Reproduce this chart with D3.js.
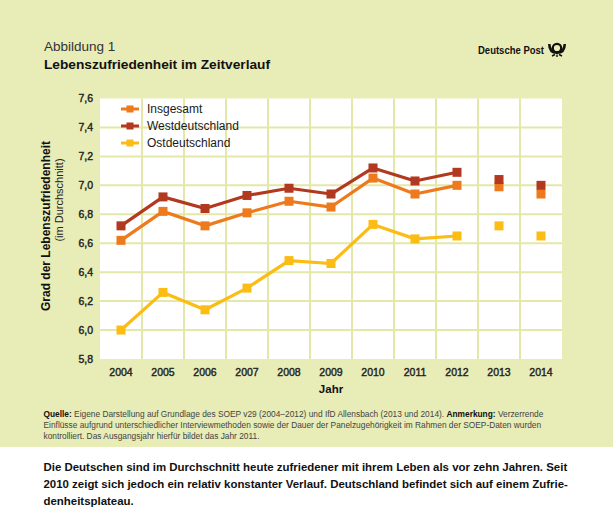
<!DOCTYPE html>
<html>
<head>
<meta charset="utf-8">
<script src="https://cdn.jsdelivr.net/npm/d3@7"></script>
<style>
  html, body { margin: 0; padding: 0; background: #fff; }
  svg { display: block; font-family: "Liberation Sans", Arial, sans-serif; }
</style>
</head>
<body>
<div id="chart"></div>
<script>
// ---- data ----
const years = ['2004', '2005', '2006', '2007', '2008', '2009', '2010', '2011', '2012', '2013', '2014'];
const insgesamt = [6.62, 6.82, 6.72, 6.81, 6.89, 6.85, 7.05, 6.94, 7.00, 6.99, 6.94];
const westdeutschland = [6.72, 6.92, 6.84, 6.93, 6.98, 6.94, 7.12, 7.03, 7.09, 7.04, 7.00];
const ostdeutschland = [6.00, 6.26, 6.14, 6.29, 6.48, 6.46, 6.73, 6.63, 6.65, 6.72, 6.65];
const yTicks = [5.8, 6.0, 6.2, 6.4, 6.6, 6.8, 7.0, 7.2, 7.4, 7.6];
// SOEP years are connected, Allensbach years (2013/2014) stand alone
const lastConnected = '2012';

const series = [
    { name: 'Insgesamt', values: insgesamt, color: '#ee7a1e' },
    { name: 'Westdeutschland', values: westdeutschland, color: '#b2381f' },
    { name: 'Ostdeutschland', values: ostdeutschland, color: '#fbbc14' }
];

const width = 613, height = 517;
const bg = '#e8ecb6', grid = '#e3e8a8';
const plot = { left: 100, right: 562, top: 98.5, bottom: 359 };

const svg = d3.select('#chart').append('svg')
    .attr('width', width)
    .attr('height', height);

// Background panels
svg.append('rect').attr('width', width).attr('height', 447).attr('fill', bg);
svg.append('rect').attr('y', 447).attr('width', width).attr('height', height - 447).attr('fill', '#fff');

// Header
svg.append('text')
    .attr('x', 44).attr('y', 51)
    .style('font-size', '13.5px').style('fill', '#333')
    .text('Abbildung 1');
svg.append('text')
    .attr('x', 44).attr('y', 69)
    .attr('textLength', 226).attr('lengthAdjust', 'spacingAndGlyphs')
    .style('font-size', '13.5px').style('font-weight', 'bold').style('fill', '#111')
    .text('Lebenszufriedenheit im Zeitverlauf');

// Deutsche Post wordmark + horn
svg.append('text')
    .attr('x', 478).attr('y', 54)
    .attr('textLength', 66).attr('lengthAdjust', 'spacingAndGlyphs')
    .style('font-size', '11px').style('font-weight', 'bold').style('fill', '#111')
    .text('Deutsche Post');
const horn = svg.append('g').attr('transform', 'translate(557,48)');
horn.append('circle').attr('r', 4.2).attr('fill', 'none').attr('stroke', '#111').attr('stroke-width', 2.2);
horn.append('path')
    .attr('d', 'M-9,-4 Q-9,6 0,6 Q9,6 9,-4 L6.5,-4 Q6,3.5 0,3.5 Q-6,3.5 -6.5,-4 Z')
    .attr('fill', '#111');
horn.append('path')
    .attr('d', 'M-5,8 L-2,6.5 M5,8 L2,6.5 M0,9 L0,6.5')
    .attr('stroke', '#111').attr('stroke-width', 1.4);

// Scales
const x = d3.scaleBand().domain(years).range([plot.left, plot.right]);
const y = d3.scaleLinear().domain([5.8, 7.6]).range([plot.bottom, plot.top]);
const cx = d => x(d) + x.bandwidth() / 2;

// Plot area
svg.append('rect')
    .attr('x', plot.left).attr('y', plot.top)
    .attr('width', plot.right - plot.left).attr('height', plot.bottom - plot.top)
    .attr('fill', '#fff');

const gridG = svg.append('g');
gridG.selectAll('line.h')
    .data(yTicks.slice(1, -1))
    .join('line')
    .attr('x1', plot.left).attr('x2', plot.right)
    .attr('y1', d => y(d)).attr('y2', d => y(d))
    .attr('stroke', grid).attr('stroke-width', 2);
gridG.selectAll('line.v')
    .data(years.slice(1))
    .join('line')
    .attr('x1', d => x(d)).attr('x2', d => x(d))
    .attr('y1', plot.top).attr('y2', plot.bottom)
    .attr('stroke', grid).attr('stroke-width', 2);

// Axes (labels only)
const yAxis = svg.append('g')
    .attr('transform', `translate(${plot.left - 7},0)`)
    .call(d3.axisLeft(y).tickValues(yTicks).tickSize(0).tickPadding(0)
        .tickFormat(d => d3.format('.1f')(d).replace('.', ',')));
yAxis.select('.domain').remove();
yAxis.selectAll('text')
    .style('font-family', '"Liberation Sans", Arial, sans-serif')
    .style('font-size', '10.5px').style('fill', '#222')
    .attr('stroke', '#222').attr('stroke-width', 0.4);

const xAxis = svg.append('g')
    .attr('transform', `translate(0,${plot.bottom + 10})`)
    .call(d3.axisBottom(x).tickSize(0).tickPadding(0));
xAxis.select('.domain').remove();
xAxis.selectAll('text')
    .style('font-family', '"Liberation Sans", Arial, sans-serif')
    .style('font-size', '10.5px').style('fill', '#222')
    .attr('stroke', '#222').attr('stroke-width', 0.4);

// Axis titles
svg.append('text')
    .attr('text-anchor', 'middle')
    .attr('transform', 'translate(50,226) rotate(-90)')
    .style('font-size', '12px').style('font-weight', 'bold').style('fill', '#111')
    .text('Grad der Lebenszufriedenheit');
svg.append('text')
    .attr('text-anchor', 'middle')
    .attr('transform', 'translate(63,200) rotate(-90)')
    .style('font-size', '11px').style('fill', '#222')
    .text('(im Durchschnitt)');
svg.append('text')
    .attr('x', (plot.left + plot.right) / 2).attr('y', 393)
    .attr('text-anchor', 'middle')
    .style('font-size', '11.5px').style('font-weight', 'bold').style('fill', '#111')
    .text('Jahr');

// Lines + markers
const connectedIdx = years.indexOf(lastConnected);
const line = d3.line()
    .x(d => cx(d.year))
    .y(d => y(d.value));

series.forEach(s => {
    const pts = years.map((yr, i) => ({ year: yr, value: s.values[i] }));
    svg.append('path')
        .datum(pts.slice(0, connectedIdx + 1))
        .attr('d', line)
        .attr('fill', 'none')
        .attr('stroke', s.color)
        .attr('stroke-width', 3.2)
        .attr('stroke-linejoin', 'round');
    svg.append('g').selectAll('rect')
        .data(pts)
        .join('rect')
        .attr('x', d => cx(d.year) - 4.5)
        .attr('y', d => y(d.value) - 4.5)
        .attr('width', 9).attr('height', 9)
        .attr('fill', s.color);
});

// Legend
const legend = svg.append('g').attr('transform', 'translate(121,109)');
const item = legend.selectAll('g')
    .data(series)
    .join('g')
    .attr('transform', (d, i) => `translate(0,${i * 17})`);
item.append('line')
    .attr('x1', 0).attr('x2', 18)
    .attr('stroke', d => d.color).attr('stroke-width', 3);
item.append('rect')
    .attr('x', 5.5).attr('y', -3.5).attr('width', 7).attr('height', 7)
    .attr('fill', d => d.color);
item.append('text')
    .attr('x', 26).attr('dy', '0.35em')
    .style('font-size', '12px').style('fill', '#1a1a1a')
    .text(d => d.name);

// Sizes a block of lines so that its first line spans `target` px
function fitBlock(texts, baseSize, target) {
    texts.forEach(t => t.style('font-size', baseSize + 'px'));
    const w = texts[0].node().getComputedTextLength();
    const size = baseSize * target / w;
    texts.forEach(t => t.style('font-size', size.toFixed(2) + 'px'));
}

// Footnote
const noteLines = [
    [['Quelle:', true], [' Eigene Darstellung auf Grundlage des SOEP v29 (2004–2012) und IfD Allensbach (2013 und 2014). ', false], ['Anmerkung:', true], [' Verzerrende', false]],
    [['Einflüsse aufgrund unterschiedlicher Interviewmethoden sowie der Dauer der Panelzugehörigkeit im Rahmen der SOEP-Daten wurden', false]],
    [['kontrolliert. Das Ausgangsjahr hierfür bildet das Jahr 2011.', false]]
];
const notes = svg.append('g');
const noteTexts = noteLines.map((parts, i) => {
    const t = notes.append('text')
        .attr('x', 43.5).attr('y', 417 + i * 10.8)
        .style('fill', '#444');
    parts.forEach(([txt, bold]) => {
        t.append('tspan')
            .style('font-weight', bold ? 'bold' : 'normal')
            .style('fill', bold ? '#111' : '#444')
            .text(txt);
    });
    return t;
});
fitBlock(noteTexts, 8.5, 500);

// Summary paragraph
const summary = [
    'Die Deutschen sind im Durchschnitt heute zufriedener mit ihrem Leben als vor zehn Jahren. Seit',
    '2010 zeigt sich jedoch ein relativ konstanter Verlauf. Deutschland befindet sich auf einem Zufrie-',
    'denheitsplateau.'
];
const summaryTexts = summary.map((txt, i) => svg.append('text')
    .attr('x', 43.5).attr('y', 470.5 + i * 17)
    .style('font-weight', 'bold').style('fill', '#111')
    .text(txt));
fitBlock(summaryTexts, 12.5, 524);
</script>
</body>
</html>
